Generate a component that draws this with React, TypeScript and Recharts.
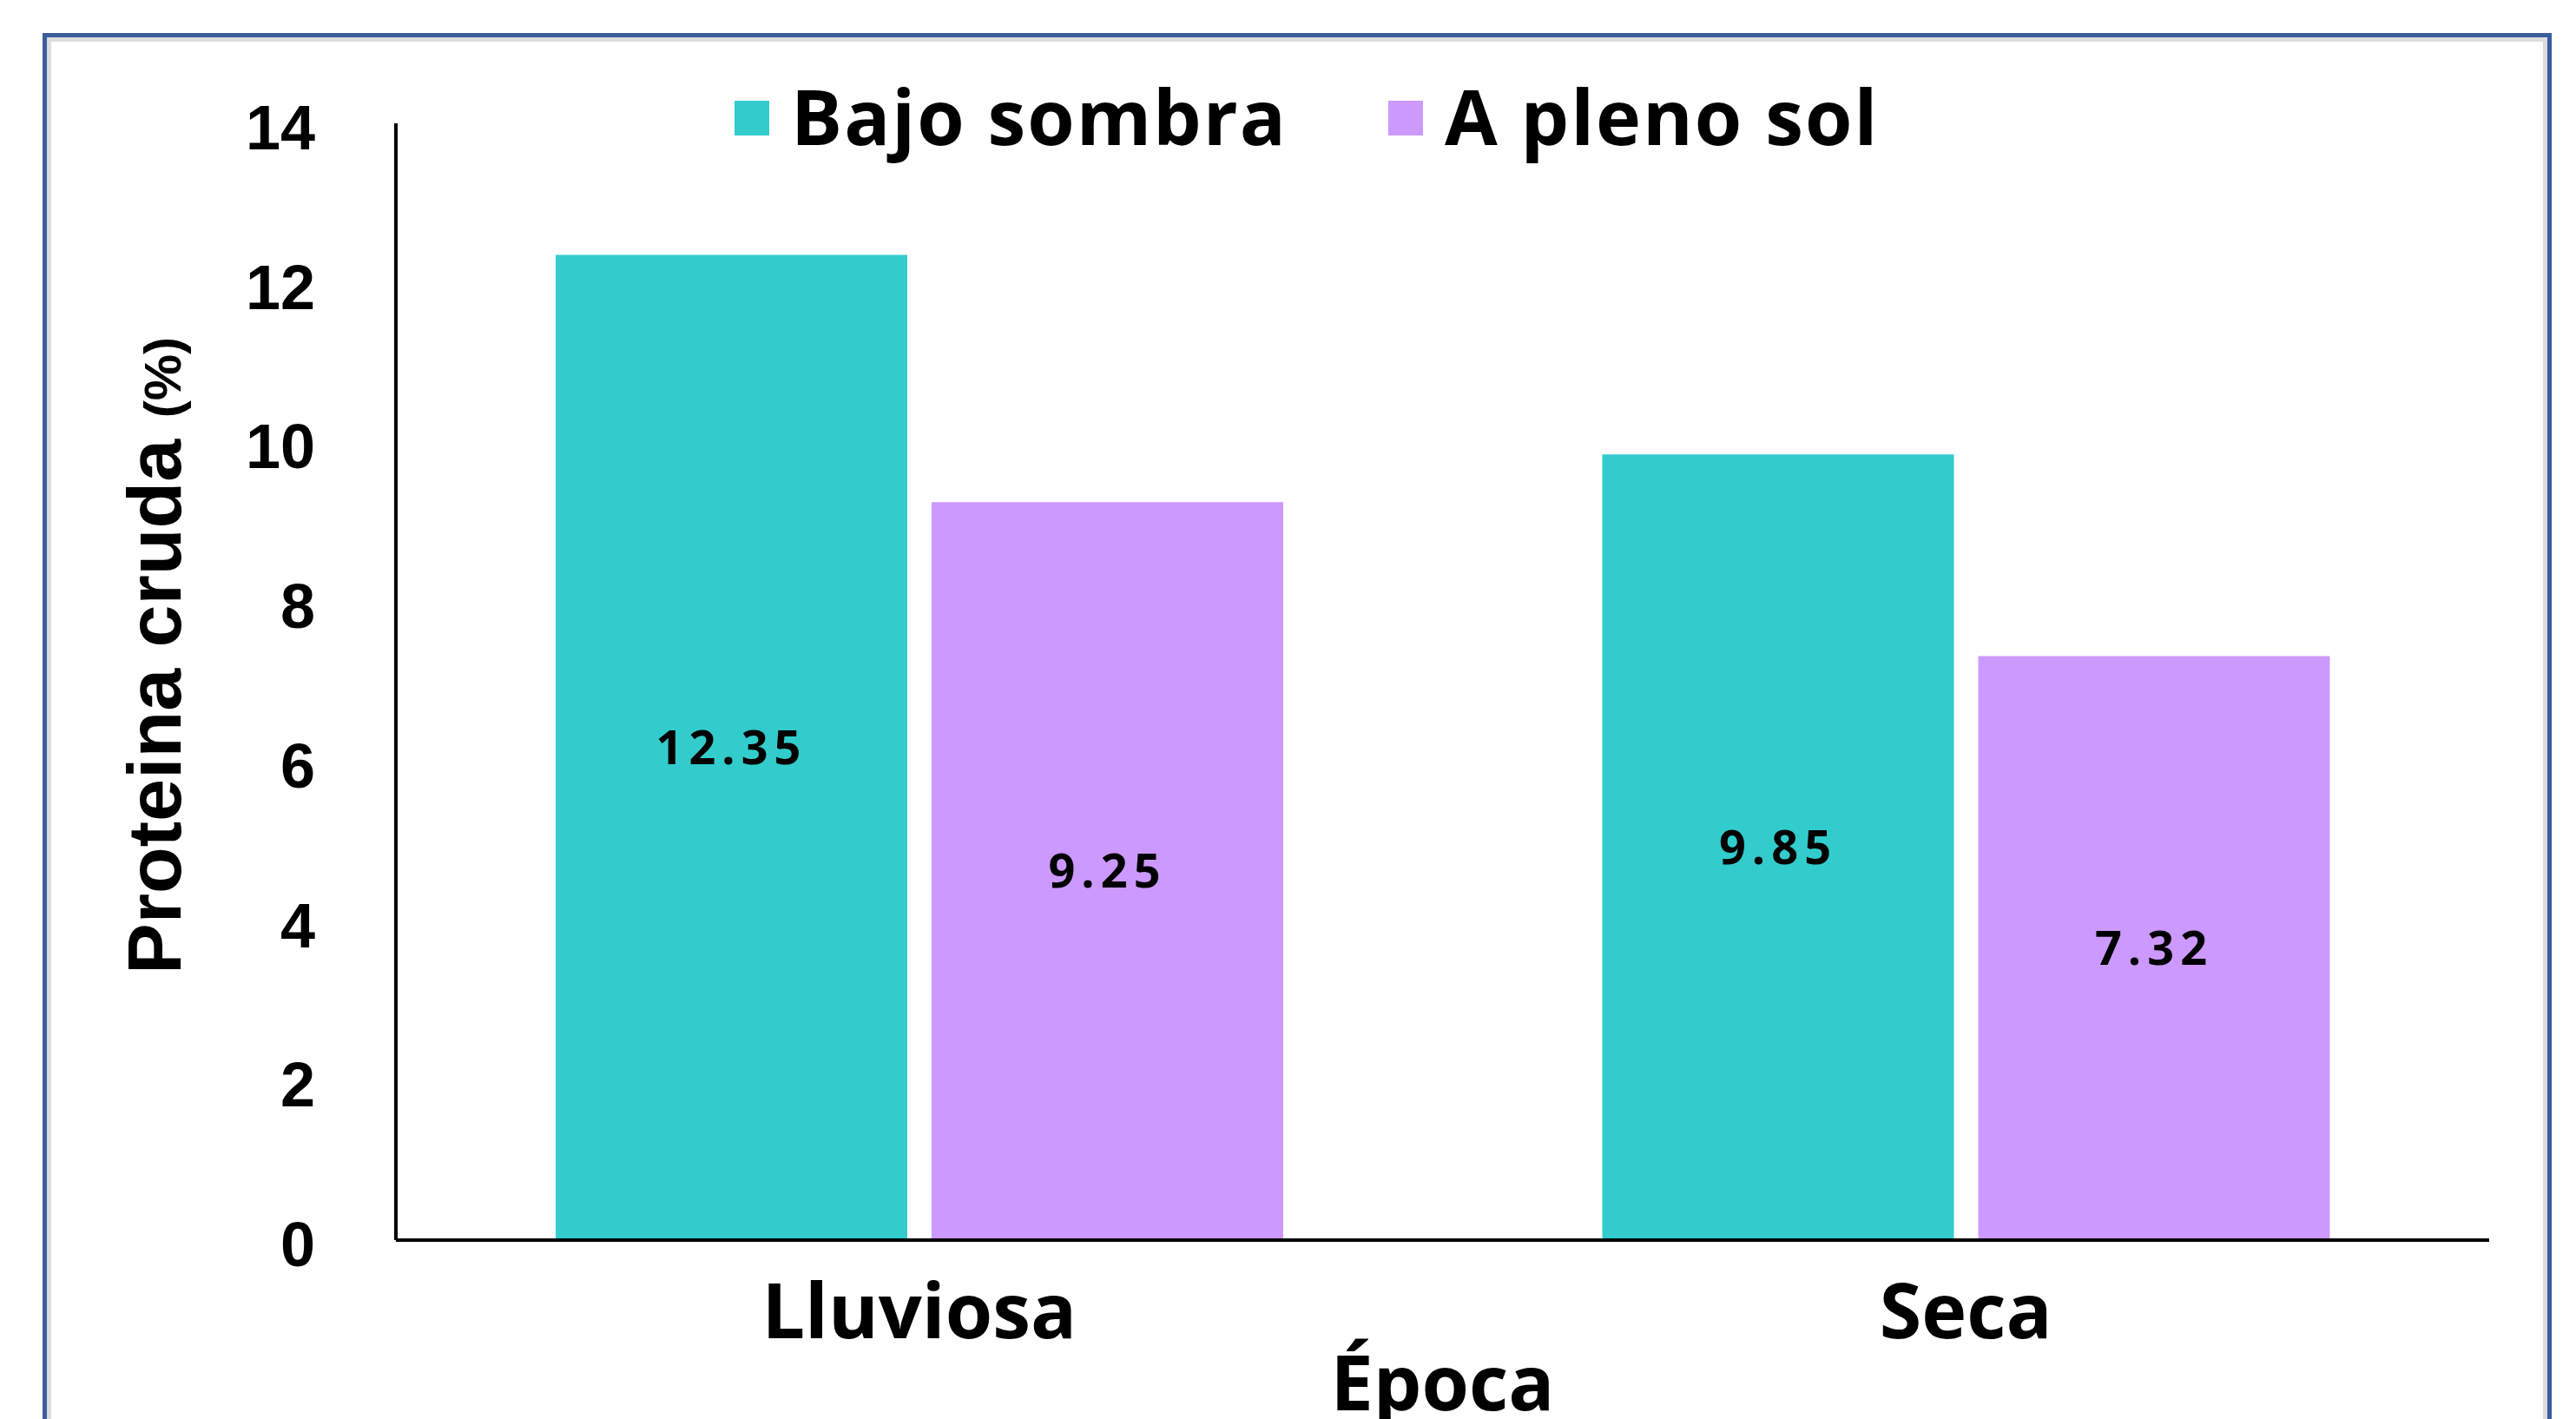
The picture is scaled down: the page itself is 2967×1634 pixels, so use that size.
import React from 'react';
import { BarChart, Bar, XAxis, YAxis, Legend, LabelList } from 'recharts';

const epocas = ['Lluviosa', 'Seca'];
const bajoSombra = [12.35, 9.85];
const plenoSol = [9.25, 7.32];
const yTicks = [0, 2, 4, 6, 8, 10, 12, 14];
const seriesNames = ['Bajo sombra', 'A pleno sol'];

const data = epocas.map((epoca, i) => ({ epoca, sombra: bajoSombra[i], sol: plenoSol[i] }));

const W = 2967;
const H = 1634;
const TEAL = '#33CCCC';
const LILAC = '#CC99FF';
const geo = '"Open Sans", Lato, sans-serif';
const arial = '"Liberation Sans", Arial, sans-serif';

const YTick = (props: any) => {
  const { x, y, payload } = props;
  return (
    <text x={x} y={y + 30} textAnchor="end" fontFamily={arial} fontWeight={700} fontSize={72} fill="#000">
      {payload.value}
    </text>
  );
};

const XTick = (props: any) => {
  const { x, y, payload } = props;
  return (
    <text x={x} y={y + 113} textAnchor="middle" fontFamily={geo} fontWeight={700} fontSize={88} fill="#000">
      {payload.value}
    </text>
  );
};

const YTitle = (props: any) => {
  const vb = props.viewBox || { x: 0, y: 0, width: 0, height: 0 };
  const cx = vb.x + 208;
  const cy = vb.y + vb.height / 2 - 30;
  return (
    <text x={cx} y={cy} transform={`rotate(-90, ${cx}, ${cy})`} textAnchor="middle" fontFamily={arial} fontWeight={700} fill="#000">
      <tspan fontSize={88}>Proteina cruda </tspan>
      <tspan fontSize={60}>(%)</tspan>
    </text>
  );
};

const XTitle = (props: any) => {
  const vb = props.viewBox || { x: 0, y: 0, width: 0, height: 0 };
  return (
    <text x={vb.x + vb.width / 2} y={vb.y + 196} textAnchor="middle" fontFamily={geo} fontWeight={700} fontSize={88} fill="#000">
      Época
    </text>
  );
};

const LegendContent = (props: any) => {
  const items = [...(props.payload || [])].sort(
    (a: any, b: any) => seriesNames.indexOf(a.value) - seriesNames.indexOf(b.value)
  );
  return (
    <div style={{ display: 'flex', alignItems: 'center', height: 90 }}>
      {items.map((it: any, i: number) => (
        <div key={i} style={{ display: 'flex', alignItems: 'center', marginRight: i === 0 ? 116 : 0 }}>
          <div style={{ width: 40, height: 40, background: it.color, marginRight: 25, marginTop: 6 }} />
          <span style={{ fontFamily: geo, fontWeight: 700, fontSize: 88, color: '#000', lineHeight: '90px', whiteSpace: 'nowrap', letterSpacing: 2 }}>
            {it.value}
          </span>
        </div>
      ))}
    </div>
  );
};

export default function App() {
  return (
    <div style={{ position: 'absolute', left: 0, top: 0, width: W, height: H, overflow: 'hidden', background: '#fff' }}>
      <div
        style={{
          position: 'absolute',
          left: 49,
          top: 38,
          width: 2890,
          height: 1700,
          boxSizing: 'border-box',
          border: '5px solid #3a5d9c',
          boxShadow: 'inset 0 0 0 5px #dcdcdc',
        }}
      />
      <div style={{ position: 'absolute', left: 0, top: 0 }}>
        <BarChart
          width={W}
          height={H}
          data={data}
          margin={{ top: 142, right: 100, left: 0, bottom: 0 }}
          barCategoryGap={184}
          barGap={28}
        >
          <XAxis
            dataKey="epoca"
            height={206}
            axisLine={{ stroke: '#000', strokeWidth: 4 }}
            tickLine={false}
            tickSize={0}
            tickMargin={0}
            tick={<XTick />}
            label={<XTitle />}
          />
          <YAxis
            width={456}
            domain={[0, 14]}
            ticks={yTicks}
            interval={0}
            axisLine={{ stroke: '#000', strokeWidth: 4 }}
            tickLine={false}
            tickSize={0}
            tickMargin={93}
            tick={<YTick />}
            label={<YTitle />}
          />
          <Legend
            verticalAlign="middle"
            align="center"
            layout="horizontal"
            wrapperStyle={{ left: 846, top: 88, width: 1400 }}
            content={<LegendContent />}
          />
          <Bar dataKey="sombra" name={seriesNames[0]} fill={TEAL} isAnimationActive={false}>
            <LabelList dataKey="sombra" position="center" fill="#000" fontFamily={geo} fontWeight={700} fontSize={54} letterSpacing={7} />
          </Bar>
          <Bar dataKey="sol" name={seriesNames[1]} fill={LILAC} isAnimationActive={false}>
            <LabelList dataKey="sol" position="center" fill="#000" fontFamily={geo} fontWeight={700} fontSize={54} letterSpacing={7} />
          </Bar>
        </BarChart>
      </div>
    </div>
  );
}
